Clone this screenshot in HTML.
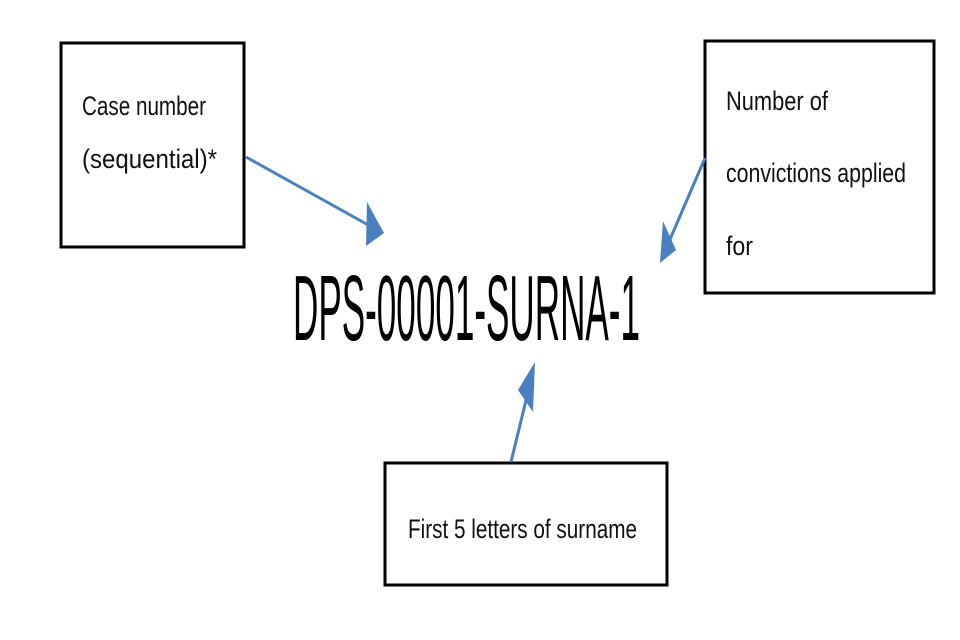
<!DOCTYPE html>
<html><head><meta charset="utf-8"><style>html,body{margin:0;padding:0;background:#fff}svg{display:block}</style></head>
<body>
<svg width="960" height="640" viewBox="0 0 960 640" xmlns="http://www.w3.org/2000/svg" font-family="Liberation Sans, Arial, sans-serif">
<rect x="0" y="0" width="960" height="640" fill="#fff"/>
<g fill="none" stroke="#000" stroke-width="3">
<rect x="61" y="43" width="183" height="204"/>
<rect x="705" y="41" width="229" height="252"/>
<rect x="385" y="463" width="282" height="122"/>
</g>
<g font-size="27" fill="#111">
<text x="82" y="115" textLength="124" lengthAdjust="spacingAndGlyphs">Case number</text>
<text x="82" y="168" textLength="135" lengthAdjust="spacingAndGlyphs">(sequential)*</text>
<text x="726" y="110" textLength="102" lengthAdjust="spacingAndGlyphs">Number of</text>
<text x="726" y="182" textLength="180" lengthAdjust="spacingAndGlyphs">convictions applied</text>
<text x="726" y="255" textLength="27" lengthAdjust="spacingAndGlyphs">for</text>
<text x="408" y="538" textLength="229" lengthAdjust="spacingAndGlyphs">First 5 letters of surname</text>
</g>
<text x="293" y="340" font-size="93" fill="#000" textLength="347" lengthAdjust="spacingAndGlyphs">DPS-00001-SURNA-1</text>
<g stroke="#4a7fc0" stroke-width="3" fill="#4a7fc0">
<line x1="246" y1="157" x2="370" y2="226"/>
<line x1="705" y1="158" x2="668" y2="244"/>
<line x1="511" y1="462" x2="528" y2="392"/>
</g>
<g fill="#4a7fc0">
<polygon points="384,233 367,202 366,246"/>
<polygon points="660,263 663,221 676,250"/>
<polygon points="535,362 518,390 533,412"/>
</g>
</svg>
</body></html>
